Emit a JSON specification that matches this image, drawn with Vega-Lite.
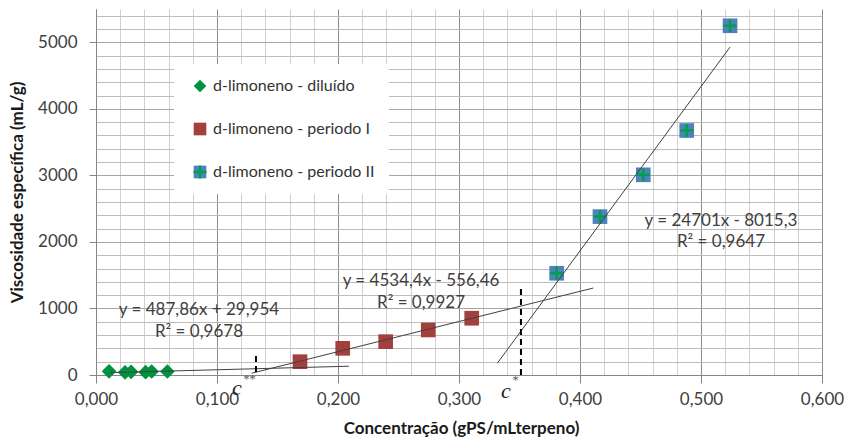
{
  "$schema": "https://vega.github.io/schema/vega-lite/v6.json",
  "width": 726,
  "height": 366,
  "autosize": "none",
  "padding": {"left": 96, "top": 9, "right": 25, "bottom": 64},
  "background": "white",
  "config": {"view": {"stroke": null}, "font": "Lato"},
  "datasets": {
    "points": [
      {"x": 0.0108, "y": 55, "series": "d-limoneno - diluído"},
      {"x": 0.024, "y": 40, "series": "d-limoneno - diluído"},
      {"x": 0.029, "y": 48, "series": "d-limoneno - diluído"},
      {"x": 0.041, "y": 42, "series": "d-limoneno - diluído"},
      {"x": 0.046, "y": 52, "series": "d-limoneno - diluído"},
      {"x": 0.059, "y": 52, "series": "d-limoneno - diluído"},
      {"x": 0.1686, "y": 200, "series": "d-limoneno - periodo I"},
      {"x": 0.2039, "y": 401, "series": "d-limoneno - periodo I"},
      {"x": 0.2394, "y": 501, "series": "d-limoneno - periodo I"},
      {"x": 0.2746, "y": 677, "series": "d-limoneno - periodo I"},
      {"x": 0.3105, "y": 853, "series": "d-limoneno - periodo I"},
      {"x": 0.3807, "y": 1529, "series": "d-limoneno - periodo II"},
      {"x": 0.4165, "y": 2380, "series": "d-limoneno - periodo II"},
      {"x": 0.4523, "y": 3008, "series": "d-limoneno - periodo II"},
      {"x": 0.4882, "y": 3674, "series": "d-limoneno - periodo II"},
      {"x": 0.524, "y": 5248, "series": "d-limoneno - periodo II"}
    ],
    "trends": [
      {"x": 0.0116, "y": 35.6, "g": "diluído"},
      {"x": 0.209, "y": 131.9, "g": "diluído"},
      {"x": 0.1287, "y": 27.1, "g": "periodo I"},
      {"x": 0.411, "y": 1307.2, "g": "periodo I"},
      {"x": 0.3317, "y": 178.1, "g": "periodo II"},
      {"x": 0.524, "y": 4928.0, "g": "periodo II"}
    ],
    "dashes": [
      {"x": 0.1322, "y": 45, "y2": 300},
      {"x": 0.3512, "y": 0, "y2": 1300}
    ],
    "equations": [
      {"x": 0.0851, "y": 977, "text": "y = 487,86x + 29,954"},
      {"x": 0.0851, "y": 646, "text": "R² = 0,9678"},
      {"x": 0.2686, "y": 1417, "text": "y = 4534,4x - 556,46"},
      {"x": 0.2686, "y": 1086, "text": "R² = 0,9927"},
      {"x": 0.5165, "y": 2319, "text": "y = 24701x - 8015,3"},
      {"x": 0.5165, "y": 2003, "text": "R² = 0,9647"}
    ],
    "cletters": [
      {"x": 0.1165, "y": -190, "text": "c"},
      {"x": 0.3387, "y": -240, "text": "c"}
    ],
    "stars": [
      {"x": 0.1268, "y": -65, "text": "**"},
      {"x": 0.3466, "y": -72, "text": "*"}
    ]
  },
  "layer": [
    {
      "data": {"name": "points"},
      "mark": {"type": "point", "filled": true, "opacity": 1, "size": 215},
      "encoding": {
        "x": {
          "field": "x", "type": "quantitative",
          "scale": {"domain": [0, 0.6], "nice": false, "zero": false},
          "axis": {
            "values": [0, 0.1, 0.2, 0.3, 0.4, 0.5, 0.6],
            "labelExpr": "replace(format(datum.value, '.3f'), '.', ',')",
            "labelFlush": false,
            "grid": true, "gridColor": "#8C8C8C", "gridWidth": 1,
            "domainColor": "#868686", "tickColor": "#868686", "tickSize": 8,
            "labelFont": "Lato", "labelFontSize": 17, "labelColor": "#404040", "labelPadding": 8,
            "title": "Concentração (gPS/mLterpeno)",
            "titleFont": "Lato", "titleFontSize": 17, "titleFontWeight": "bold", "titleColor": "#1a1a1a",
            "titleX": 365, "titleY": 53, "titleBaseline": "middle", "titleAnchor": "middle"
          }
        },
        "y": {
          "field": "y", "type": "quantitative",
          "scale": {"domain": [0, 5500], "nice": false, "zero": false},
          "axis": {
            "values": [0, 1000, 2000, 3000, 4000, 5000],
            "format": "d",
            "labelFlush": false,
            "grid": true, "gridColor": "#A6A6A6", "gridWidth": 1,
            "domainColor": "#868686", "tickColor": "#868686", "tickSize": 7,
            "labelFont": "Lato", "labelFontSize": 17, "labelColor": "#404040", "labelPadding": 12,
            "title": "Viscosidade específica (mL/g)",
            "titleFont": "Lato", "titleFontSize": 17, "titleFontWeight": "bold", "titleColor": "#1a1a1a",
            "titleX": -79, "titleY": 183, "titleAngle": -90, "titleBaseline": "middle", "titleAnchor": "middle"
          }
        },
        "color": {
          "field": "series", "type": "nominal",
          "scale": {
            "domain": ["d-limoneno - diluído", "d-limoneno - periodo I", "d-limoneno - periodo II"],
            "range": ["#00923F", "#A3403D", "#4F81BD"]
          },
          "legend": {
            "orient": "none", "legendX": 78, "legendY": 55, "title": null,
            "padding": 14, "fillColor": "white", "symbolOffset": 4, "labelOffset": 5,
            "labelFont": "Lato", "labelFontSize": 16, "labelColor": "#333333", "labelLimit": 400,
            "rowPadding": 27, "symbolSize": 160, "symbolStrokeWidth": 0
          }
        },
        "shape": {
          "field": "series", "type": "nominal",
          "scale": {
            "domain": ["d-limoneno - diluído", "d-limoneno - periodo I", "d-limoneno - periodo II"],
            "range": ["diamond", "square", "square"]
          },
          "legend": {
            "orient": "none", "legendX": 78, "legendY": 55, "title": null,
            "padding": 14, "fillColor": "white", "symbolOffset": 4, "labelOffset": 5,
            "labelFont": "Lato", "labelFontSize": 16, "labelColor": "#333333", "labelLimit": 400,
            "rowPadding": 27, "symbolSize": 160, "symbolStrokeWidth": 0
          }
        }
      }
    },
    {
      "data": {"name": "points"},
      "transform": [{"filter": "datum.series === 'd-limoneno - periodo II'"}],
      "mark": {"type": "point", "shape": "M-1,0H1M0,-1V1", "filled": false, "stroke": "#00A04A", "strokeWidth": 2.5, "opacity": 1},
      "encoding": {
        "x": {
          "field": "x", "type": "quantitative",
          "axis": {
            "values": [0.02, 0.04, 0.06, 0.08, 0.12, 0.14, 0.16, 0.18, 0.22, 0.24, 0.26, 0.28, 0.32, 0.34, 0.36, 0.38, 0.42, 0.44, 0.46, 0.48, 0.52, 0.54, 0.56, 0.58],
            "grid": true, "gridColor": "#D0D0D0", "gridWidth": 1,
            "domain": false, "ticks": false, "labels": false, "title": null
          }
        },
        "y": {
          "field": "y", "type": "quantitative",
          "axis": {
            "values": [200, 400, 600, 800, 1200, 1400, 1600, 1800, 2200, 2400, 2600, 2800, 3200, 3400, 3600, 3800, 4200, 4400, 4600, 4800, 5200, 5400],
            "grid": true, "gridColor": "#BDBDBD", "gridWidth": 1,
            "domain": false, "ticks": false, "labels": false, "title": null
          }
        },
        "size": {
          "field": "series", "type": "ordinal",
          "scale": {"type": "ordinal", "range": [170]},
          "legend": {
            "orient": "none", "legendX": 78, "legendY": 141, "title": null,
            "padding": 14, "symbolOffset": 4, "labelOffset": 5,
            "labelFont": "Lato", "labelFontSize": 16, "labelExpr": "' '",
            "symbolType": "M-1,0H1M0,-1V1",
            "symbolStrokeColor": "#00A04A", "symbolStrokeWidth": 2.5,
            "symbolFillColor": "transparent"
          }
        }
      }
    },
    {
      "data": {"name": "trends"},
      "mark": {"type": "line", "color": "#404040", "strokeWidth": 1},
      "encoding": {
        "x": {"field": "x", "type": "quantitative", "axis": null},
        "y": {"field": "y", "type": "quantitative", "axis": null},
        "detail": {"field": "g"}
      }
    },
    {
      "data": {"name": "dashes"},
      "mark": {"type": "rule", "color": "#000000", "strokeWidth": 2, "strokeDash": [6, 4]},
      "encoding": {
        "x": {"field": "x", "type": "quantitative", "axis": null},
        "y": {"field": "y", "type": "quantitative", "axis": null},
        "y2": {"field": "y2"}
      }
    },
    {
      "data": {"name": "equations"},
      "mark": {"type": "text", "font": "Lato", "fontSize": 17, "color": "#404040", "align": "center", "baseline": "middle"},
      "encoding": {
        "x": {"field": "x", "type": "quantitative", "axis": null},
        "y": {"field": "y", "type": "quantitative", "axis": null},
        "text": {"field": "text"}
      }
    },
    {
      "data": {"name": "cletters"},
      "mark": {"type": "text", "font": "Liberation Serif", "fontStyle": "italic", "fontSize": 22, "color": "#222222", "align": "center", "baseline": "middle"},
      "encoding": {
        "x": {"field": "x", "type": "quantitative", "axis": null},
        "y": {"field": "y", "type": "quantitative", "axis": null},
        "text": {"field": "text"}
      }
    },
    {
      "data": {"name": "stars"},
      "mark": {"type": "text", "font": "Liberation Serif", "fontSize": 12, "color": "#555555", "align": "center", "baseline": "middle"},
      "encoding": {
        "x": {"field": "x", "type": "quantitative", "axis": null},
        "y": {"field": "y", "type": "quantitative", "axis": null},
        "text": {"field": "text"}
      }
    }
  ],
  "resolve": {
    "axis": {"x": "independent", "y": "independent"}
  }
}
